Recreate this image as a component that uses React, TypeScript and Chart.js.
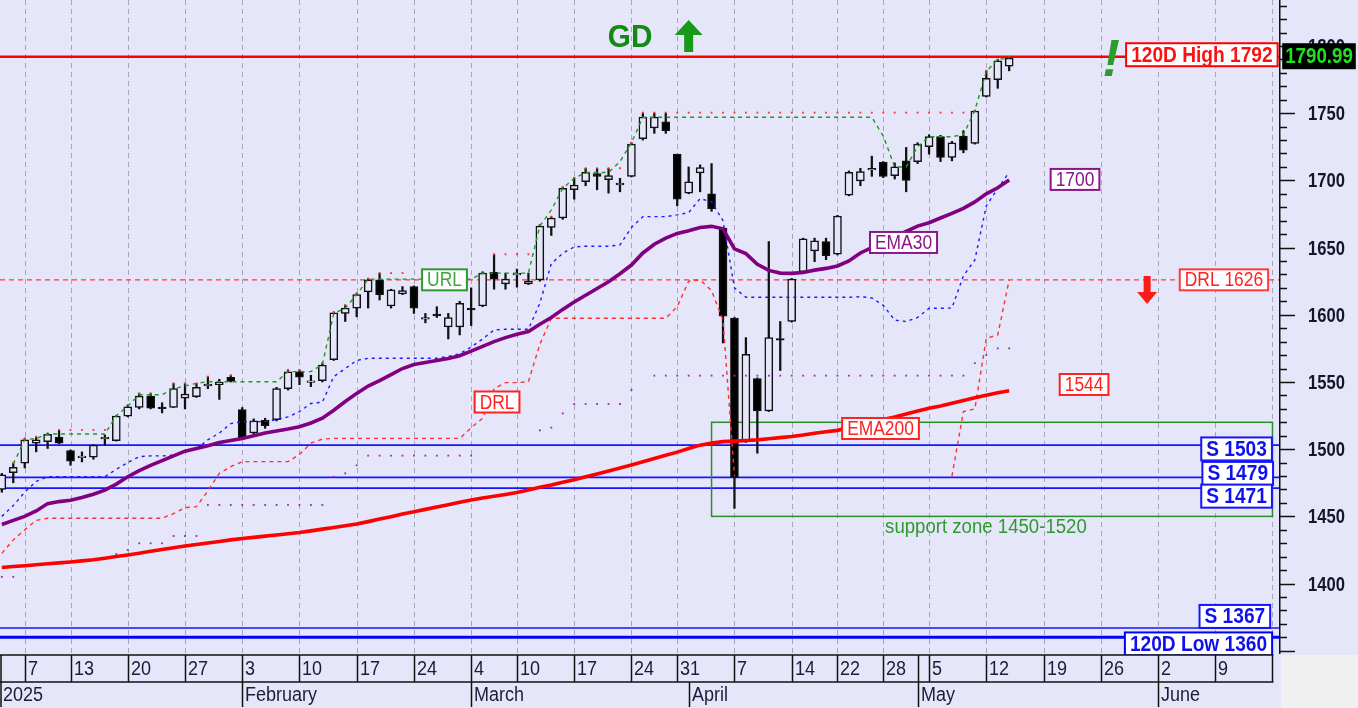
import React, { useEffect, useRef } from 'react';
import { Chart, registerables } from 'chart.js';

Chart.register(...registerables);

// ---------- DATA ----------
const opens = [
  1470, 1482.5, 1489.5, 1504.5, 1505.5, 1509, 1499, 1494, 1494, 1508,
  1506.3, 1524.5, 1531, 1539.5, 1531, 1531, 1538, 1539, 1547.5, 1548,
  1553.5, 1529.5, 1512, 1521.5, 1522, 1545, 1557.5, 1550, 1551, 1566.5,
  1601, 1605, 1617, 1626, 1606.5, 1615.5, 1621, 1597, 1600.5, 1591,
  1591, 1604.5, 1606.5, 1631.5, 1623, 1630, 1623, 1626, 1665, 1672,
  1693, 1699, 1705, 1700.5, 1697, 1703, 1731, 1739, 1743.5, 1719.5,
  1690.5, 1705.5, 1690, 1664.5, 1597.5, 1505.5, 1552.5, 1528.5, 1582, 1595,
  1632, 1647.5, 1654.5, 1645, 1689, 1699.5, 1708, 1713.5, 1703.5, 1714.5,
  1714, 1725, 1732.5, 1717, 1733, 1727.5, 1762.5, 1775, 1785,
];
const highs = [
  1482, 1489.5, 1508, 1509, 1512, 1514, 1499.5, 1498, 1503.5, 1510.5,
  1525, 1533, 1541.5, 1541.5, 1534.5, 1549, 1549, 1549, 1554, 1552,
  1555, 1531, 1522.5, 1523, 1546, 1559, 1559, 1555, 1564, 1602,
  1607, 1616, 1627, 1631, 1619, 1621, 1621.5, 1601, 1606, 1601,
  1610, 1620, 1632, 1645, 1631, 1634, 1631, 1667, 1673, 1695,
  1702, 1709, 1709, 1709, 1701.5, 1728, 1750, 1750, 1750, 1719.5,
  1710, 1711.5, 1712.5, 1665, 1598, 1583, 1553, 1654.5, 1595, 1627,
  1657, 1657, 1657, 1674, 1707, 1709, 1718, 1714, 1713, 1724.5,
  1728, 1734, 1733.5, 1729, 1737, 1752, 1781.5, 1790, 1792,
];
const lows = [
  1468, 1475, 1486, 1498, 1500.5, 1504, 1488, 1490.5, 1492.5, 1503,
  1506, 1524, 1530, 1530, 1527, 1531, 1530, 1538.5, 1545, 1537,
  1550, 1507, 1511, 1515.5, 1521, 1544, 1548, 1546.5, 1550, 1566,
  1595, 1598.5, 1605, 1611, 1605, 1615, 1601, 1594, 1598, 1582,
  1585, 1592, 1606, 1619, 1619, 1620.5, 1622.5, 1625, 1659, 1671,
  1686, 1696, 1693, 1690.5, 1691.5, 1702.5, 1730, 1735, 1735, 1681,
  1690, 1691.5, 1677, 1579, 1456, 1505, 1497, 1528, 1558.5, 1594.5,
  1631, 1639.5, 1641, 1644.5, 1688.5, 1696, 1703, 1702, 1701, 1691.5,
  1712.5, 1719.5, 1714, 1714.5, 1720.5, 1727, 1762, 1768.5, 1781.5,
];
const closes = [
  1481, 1486.5, 1507, 1507, 1511, 1504.5, 1491, 1494.6, 1503, 1508.6,
  1524.7, 1531.5, 1539.5, 1530.5, 1530.4, 1545, 1541, 1546, 1548, 1550,
  1550.5, 1508, 1521, 1517.5, 1545, 1557.5, 1553.5, 1550.5, 1562.5, 1601.5,
  1605, 1615, 1626, 1615, 1618.5, 1618, 1605, 1597.5, 1599.2, 1598,
  1608.5, 1604, 1631, 1626.5, 1626.5, 1630.6, 1625, 1666, 1672, 1694,
  1696.5, 1706, 1703, 1703.5, 1697.6, 1727, 1747, 1747, 1737, 1686,
  1699, 1709.5, 1679, 1599, 1479, 1570.5, 1528.5, 1583, 1581.4, 1626.5,
  1656.5, 1655, 1644, 1673.5, 1706, 1706.5, 1708.6, 1703, 1710, 1700,
  1727, 1732.5, 1717, 1728, 1722.5, 1751.5, 1776, 1789, 1791,
];

const ema30 = [
  1444, 1447, 1450, 1454, 1459.5, 1461, 1462, 1464, 1466.5, 1469.5,
  1474, 1479.5, 1484, 1488, 1491.5, 1495, 1498.5, 1500.5, 1502.5, 1505,
  1506.5, 1508, 1510, 1512, 1513.5, 1515, 1516.7, 1519.5, 1523, 1529,
  1535.5, 1541.5, 1547, 1551, 1555.5, 1560, 1563, 1564.5, 1566, 1567.5,
  1569.5, 1573, 1576.5, 1580, 1583, 1585.5, 1587.5, 1593, 1598, 1604,
  1609.5, 1614.5, 1619.5, 1624.5, 1630.5, 1637, 1646, 1652.5, 1657, 1660.5,
  1662.5, 1665, 1665.8, 1664, 1649, 1645.5, 1637.5, 1633, 1631, 1630.8,
  1631.5, 1633.2, 1634.5, 1636.3, 1640, 1646, 1650, 1654, 1658, 1662,
  1666, 1668.5, 1672, 1675.5, 1679.2, 1684, 1690, 1694.5, 1700.3,
];
const ema200 = [
  1412, 1412.7, 1413.3, 1414, 1414.7, 1415.4, 1416.1, 1416.9, 1417.7, 1418.9,
  1420.1, 1421.3, 1422.6, 1424, 1425.3, 1426.7, 1428, 1429.1, 1430.2, 1431.3,
  1432.5, 1433.6, 1434.4, 1435.3, 1436.2, 1437.1, 1438, 1439.2, 1440.5, 1441.7,
  1443, 1444.3, 1446.1, 1448, 1449.8, 1451.7, 1453.5, 1455.2, 1457, 1458.7,
  1460.5, 1462.2, 1463.6, 1465, 1466.3, 1467.7, 1469.6, 1471.6, 1473.4, 1475.4,
  1477.3, 1479.5, 1481.6, 1483.8, 1486, 1488.2, 1490.6, 1493, 1495.5, 1497.8,
  1500.5, 1503, 1504.5, 1505.6, 1506, 1506.4, 1506.9, 1507.7, 1508.6, 1509.4,
  1510.5, 1511.8, 1513, 1514, 1516, 1518, 1520, 1522, 1524, 1526.2,
  1528.4, 1530.4, 1532.2, 1534.2, 1536.3, 1538.2, 1540.2, 1542, 1543.5,
];
// blue dashed lower trailing line
const lowerTrail = [
  1450, 1458, 1468, 1476, 1479.5, 1479.5, 1479.5, 1479.5, 1479.5, 1479.5,
  1485, 1490, 1494.4, 1495, 1495, 1495.5, 1499, 1500, 1507, 1512,
  1519, 1520.5, 1520.5, 1520.5, 1522, 1524, 1528, 1534, 1535, 1554,
  1560, 1566, 1567.6, 1567.6, 1567.6, 1567.6, 1567.6, 1567.6, 1567.6, 1569,
  1571, 1576, 1582, 1588.7, 1589.2, 1589.2, 1589.2, 1608.6, 1638, 1645.8,
  1650.5, 1651, 1651, 1651, 1652, 1665, 1673, 1673, 1673, 1674.3,
  1676, 1686.5, 1684, 1670, 1620, 1613, 1613, 1613, 1613, 1613,
  1613, 1613, 1613, 1613, 1613, 1613.5, 1612.5, 1607, 1596, 1595,
  1598, 1604.8, 1604.8, 1605, 1629, 1640.8, 1681, 1694, 1706,
];
// green dashed upper reversal line (URL)
const upperTrail = [
  null, 1489, 1507, 1508, 1511.3, 1511.3, 1511.3, 1511.3, 1511.3, 1511.3,
  1525, 1532, 1540.5, 1540.5, 1540.5, 1545, 1547, 1549, 1550.2, 1550.2,
  1550.2, 1550.2, 1550.2, 1550.2, 1550.2, 1557.7, 1557.7, 1557.7, 1563, 1601,
  1605, 1615, 1626.5, 1626.5, 1626.5, 1626.5, 1626.5, 1626.5, 1626.5, 1626.5,
  1626.5, 1626.5, 1631, 1631, 1631, 1631, 1631, 1666, 1678, 1694,
  1701.6, 1705.8, 1705.8, 1705.8, 1714, 1728, 1747, 1747, 1747, 1747,
  1747, 1747, 1747, 1747, 1747, 1747, 1747, 1747, 1747, 1747,
  1747, 1747, 1747, 1747, 1747, 1747, 1747, 1733, 1710, 1710,
  1725, 1732.5, 1732.5, 1732.5, 1734, 1752, 1781, 1790, 1791,
];
// red dashed down reversal line (DRL)
const downTrail = [
  1422.5, 1432.5, 1440, 1447, 1448.6, 1448.6, 1448.6, 1448.6, 1448.6, 1448.6,
  1448.6, 1448.6, 1448.6, 1448.6, 1448.6, 1452, 1456.5, 1457.2, 1469, 1482,
  1487, 1490.7, 1490.7, 1490.7, 1490.7, 1490.7, 1496, 1504.5, 1507.5, 1508,
  1508, 1508, 1508, 1508, 1508, 1508, 1508, 1508, 1508, 1508,
  1508, 1516, 1523, 1545, 1549.5, 1549.5, 1550.2, 1578, 1597.4, 1597.4,
  1597.4, 1597.4, 1597.4, 1597.4, 1597.4, 1597.4, 1597.4, 1597.4, 1597.4, 1606,
  1625, 1626, 1618, 1596, 1480, null, null, null, null, null,
  null, null, null, null, null, null, null, null, null, null,
  null, null, null, 1480, 1528, 1530, 1582.5, 1585, 1626,
];
// red dotted resistance marks
const resistanceDots = [
  null, 1490, 1508, 1509.3, null, 1514.3, 1514.3, 1514.3, 1514.3, 1514.3,
  null, null, 1541.6, 1541.6, null, 1549, 1549, 1549, 1554, null,
  1555, null, null, null, null, 1559, 1559, null, 1564, 1602,
  1607.3, 1616, 1627, 1631, 1631, 1631, null, null, null, null,
  null, null, null, 1645, 1645, 1645, 1645, 1667, 1673, 1695,
  1702, 1709, 1709, 1709, 1709, 1728, 1750.4, 1750.4, 1750.4, 1750.4,
  1750.4, 1750.4, 1750.4, 1750.4, 1750.4, 1750.4, 1750.4, 1750.4, 1750.4, 1750.4,
  1750.4, 1750.4, 1750.4, 1750.4, 1750.4, 1750.4, 1750.4, 1750.4, 1750.4, 1750.4,
  1750.4, 1750.4, 1750.4, 1750.4, 1750.4, 1752, 1781.6, 1790, 1792,
];
// purple dotted support marks
const supportDots = [
  1405, 1405, null, null, null, null, null, null, null, 1419,
  1422, 1425, 1430, 1430, 1430, 1435.4, 1435.4, 1435.4, 1458.5, 1458.5,
  1458.5, 1458.5, 1458.5, 1458.5, 1458.5, 1458.5, 1458.5, 1458.5, 1458.5, 1479.5,
  1482, 1488, 1495.2, 1495.2, 1495.2, 1495.2, 1495.2, 1495.2, 1495.2, 1495.2,
  1495.2, 1495.2, null, null, null, null, null, 1514, 1516, 1526.6,
  1533.6, 1533.6, 1533.6, 1533.6, 1533.6, 1544, null, 1554.7, 1554.7, 1554.7,
  1554.7, 1554.7, 1554.7, 1554.7, 1554.7, 1554.7, 1554.7, 1554.7, 1554.7, 1554.7,
  1554.7, 1554.7, 1554.7, 1554.7, 1554.7, 1554.7, 1554.7, 1554.7, 1554.7, 1554.7,
  1554.7, 1554.7, 1554.7, 1554.7, 1554.7, 1564, 1570, 1575, 1575,
];

// calendar (trading-day slots)
const weekLabels = ['7', '13', '20', '27', '3', '10', '17', '24', '4', '10', '17', '24', '31', '7', '14', '22', '28', '5', '12', '19', '26', '2', '9'];
const weekSlots = [2, 6, 11, 16, 21, 26, 31, 36, 41, 45, 50, 55, 59, 64, 69, 73, 77, 81, 86, 91, 96, 101, 106];
const monthLabels = ['2025', 'February', 'March', 'April', 'May', 'June'];
const monthSlots = [null, 21, 41, 60, 80, 101];
const monthSplitsWeekRow = [false, true, true, false, true, true];
const END_SLOT = 111;

// horizontal levels
const levelValues = [1792, 1626, 1503, 1479, 1471, 1367, 1360];
const levelLabels = ['120D High 1792', 'DRL 1626', 'S 1503', 'S 1479', 'S 1471', 'S 1367', '120D Low 1360'];
const lastPrice = '1790.99';

// support zone
const zoneLow = 1450;
const zoneHigh = 1520;
const zoneStartSlot = 62;
const zoneText = 'support zone 1450-1520';

// tags
const tagTexts = ['URL', 'DRL', 'EMA30', 'EMA200', '1700', '1544'];

// ---------- STYLE / LAYOUT ----------
const BG = '#E6E6FA';
const FONT = "'Liberation Sans', Arial, Helvetica, sans-serif";
const SLOT_MIN = -0.16;
const SLOT_MAX = 111.57;
const PRICE_MIN = 1347.6;
const PRICE_MAX = 1834.2;

const levelStyles = [
  { color: '#ff0000', text: '#ff1010', width: 2.5, dash: [] as number[], dy: -2, bold: true, rightSlot: 111.45 },
  { color: '#ff3a3a', text: '#ff2020', width: 1.3, dash: [5, 4], dy: 0, bold: false, rightSlot: 110.62 },
  { color: '#1414ff', text: '#1010ee', width: 1.6, dash: [] as number[], dy: 3.8, bold: true, rightSlot: 110.95 },
  { color: '#1414ff', text: '#1010ee', width: 1.6, dash: [] as number[], dy: -4, bold: true, rightSlot: 111.05 },
  { color: '#1414ff', text: '#1010ee', width: 1.6, dash: [] as number[], dy: 8, bold: true, rightSlot: 110.95 },
  { color: '#1414ff', text: '#1010ee', width: 1.6, dash: [] as number[], dy: -11.5, bold: true, rightSlot: 110.8 },
  { color: '#0000ff', text: '#1010ee', width: 3, dash: [] as number[], dy: 6.6, bold: true, rightSlot: 110.97 },
];
const tagStyles = [
  { slot: 38.67, value: 1626, text: '#3da63d', border: '#2c9a2c' },
  { slot: 43.26, value: 1535.1, text: '#ff2020', border: '#ff2020' },
  { slot: 78.77, value: 1653.8, text: '#8b168b', border: '#8b168b' },
  { slot: 76.76, value: 1515.4, text: '#ff2020', border: '#ff2020' },
  { slot: 93.75, value: 1700.7, text: '#8b168b', border: '#8b168b' },
  { slot: 94.54, value: 1548.1, text: '#ff2020', border: '#ff2020' },
];

function txt(
  ctx: CanvasRenderingContext2D, s: string, x: number, y: number, font: string,
  color: string, align: 'left' | 'center' | 'right', sx: number, baseline: CanvasTextBaseline = 'middle'
) {
  ctx.save();
  ctx.font = font;
  const w = ctx.measureText(s).width * sx;
  const left = align === 'center' ? x - w / 2 : align === 'right' ? x - w : x;
  ctx.translate(left, y);
  ctx.scale(sx, 1);
  ctx.fillStyle = color;
  ctx.textAlign = 'left';
  ctx.textBaseline = baseline;
  ctx.fillText(s, 0, 0);
  ctx.restore();
  return w;
}

function boxLabel(
  ctx: CanvasRenderingContext2D, s: string, x: number, cy: number, font: string, sx: number,
  color: string, border: string, h: number, pad: number, anchor: 'center' | 'right', fill = '#ffffff'
) {
  ctx.save();
  ctx.font = font;
  const tw = ctx.measureText(s).width * sx;
  const w = tw + 2 * pad;
  const left = anchor === 'right' ? x - w : x - w / 2;
  const top = cy - h / 2;
  ctx.fillStyle = fill;
  ctx.fillRect(left, top, w, h);
  if (border) {
    ctx.strokeStyle = border;
    ctx.lineWidth = 2;
    ctx.strokeRect(left, top, w, h);
  }
  ctx.restore();
  txt(ctx, s, left + w / 2, cy + 1, font, color, 'center', sx);
}

const drawPlugin = {
  id: 'drawPlugin',
  beforeDraw(chart: any) {
    const { ctx, width, height, chartArea: ca } = chart;
    ctx.save();
    ctx.fillStyle = BG;
    ctx.fillRect(0, 0, width, height);
    ctx.fillStyle = '#f0f0f0';
    ctx.fillRect(ca.right + 2, ca.bottom + 1, width - ca.right, height - ca.bottom);
    ctx.restore();
  },
  beforeDatasetsDraw(chart: any) {
    const { ctx, chartArea: ca, scales } = chart;
    const xs = (v: number) => scales.x.getPixelForValue(v);
    const ys = (v: number) => scales.y.getPixelForValue(v);
    ctx.save();
    // vertical dashed week grid
    ctx.strokeStyle = '#a6a6b6';
    ctx.lineWidth = 1;
    ctx.setLineDash([5, 4]);
    [...weekSlots, END_SLOT].forEach((s) => {
      const x = Math.round(xs(s)) + 0.5;
      ctx.beginPath();
      ctx.moveTo(x, ca.top);
      ctx.lineTo(x, ca.bottom);
      ctx.stroke();
    });
    // horizontal levels
    levelValues.forEach((v, i) => {
      const st = levelStyles[i];
      ctx.strokeStyle = st.color;
      ctx.lineWidth = st.width;
      ctx.setLineDash(st.dash);
      const y = ys(v);
      ctx.beginPath();
      ctx.moveTo(ca.left, y);
      ctx.lineTo(ca.right, y);
      ctx.stroke();
    });
    ctx.setLineDash([]);
    // support zone rectangle
    ctx.strokeStyle = '#2a8f2a';
    ctx.lineWidth = 1.5;
    const x0 = xs(zoneStartSlot), x1 = xs(END_SLOT);
    const y0 = ys(zoneHigh), y1 = ys(zoneLow);
    ctx.strokeRect(x0, y0, x1 - x0, y1 - y0);
    ctx.restore();
  },
  afterDatasetsDraw(chart: any) {
    const { ctx, chartArea: ca, scales, width, height } = chart;
    const xs = (v: number) => scales.x.getPixelForValue(v);
    const ys = (v: number) => scales.y.getPixelForValue(v);

    // support zone text
    txt(ctx, zoneText, xs(77.16), ys(1441.4), `20px ${FONT}`, '#2e9a2e', 'left', 0.93);

    // tags
    tagTexts.forEach((t, i) => {
      const st = tagStyles[i];
      boxLabel(ctx, t, xs(st.slot), ys(st.value), `20px ${FONT}`, 0.87, st.text, st.border, 21, 5, 'center');
    });

    // level labels
    levelValues.forEach((v, i) => {
      const st = levelStyles[i];
      const font = st.bold ? `bold 22px ${FONT}` : `20px ${FONT}`;
      boxLabel(ctx, levelLabels[i], xs(st.rightSlot), ys(v) + st.dy, font, 0.87, st.text, st.color, st.bold ? 23 : 21, 5, 'right');
    });

    // GD text + up arrow
    txt(ctx, 'GD', xs(54.88), ys(1805.9), `bold 32px ${FONT}`, '#138a13', 'center', 0.93);
    {
      const cx = xs(60), ty = ys(1819.3), by = ys(1795.5);
      const hh = 15, hw = 28, sw = 9;
      ctx.save();
      ctx.fillStyle = '#179a17';
      ctx.beginPath();
      ctx.moveTo(cx, ty);
      ctx.lineTo(cx + hw / 2, ty + hh);
      ctx.lineTo(cx + sw / 2, ty + hh);
      ctx.lineTo(cx + sw / 2, by);
      ctx.lineTo(cx - sw / 2, by);
      ctx.lineTo(cx - sw / 2, ty + hh);
      ctx.lineTo(cx - hw / 2, ty + hh);
      ctx.closePath();
      ctx.fill();
      ctx.restore();
    }
    // exclamation
    txt(ctx, '!', xs(96.9), ys(1777.7), `italic bold 52px ${FONT}`, '#2a9d2a', 'center', 1, 'alphabetic');
    // red down arrow
    {
      const cx = xs(100.05), ty = ys(1628.8), tip = ys(1608.0);
      const hh = 12, hw = 20, sw = 7;
      ctx.save();
      ctx.fillStyle = '#ff1a1a';
      ctx.beginPath();
      ctx.moveTo(cx - sw / 2, ty);
      ctx.lineTo(cx + sw / 2, ty);
      ctx.lineTo(cx + sw / 2, tip - hh);
      ctx.lineTo(cx + hw / 2, tip - hh);
      ctx.lineTo(cx, tip);
      ctx.lineTo(cx - hw / 2, tip - hh);
      ctx.lineTo(cx - sw / 2, tip - hh);
      ctx.closePath();
      ctx.fill();
      ctx.restore();
    }

    // ---- y axis (right) ----
    ctx.save();
    ctx.fillStyle = BG;
    ctx.fillRect(ca.right, 0, width - ca.right, ca.bottom + 1);
    ctx.strokeStyle = '#111';
    ctx.lineWidth = 1.5;
    ctx.beginPath();
    ctx.moveTo(ca.right + 0.75, ca.top);
    ctx.lineTo(ca.right + 0.75, ca.bottom);
    ctx.stroke();
    ctx.lineWidth = 1.5;
    scales.y.ticks.forEach((t: any) => {
      const v = t.value;
      const y = Math.round(ys(v)) + 0.5;
      const major = Math.abs(v % 50) < 0.01;
      ctx.beginPath();
      ctx.moveTo(ca.right, y);
      ctx.lineTo(ca.right + (major ? 16 : 8), y);
      ctx.stroke();
      if (major && v >= 1400 && v <= 1800) {
        txt(ctx, String(v), ca.right + 29, y + 1, `bold 20px ${FONT}`, '#14142a', 'left', 0.83);
      }
    });
    ctx.restore();
    // last price box
    boxLabel(ctx, lastPrice, ca.right + 40, ys(1792) - 0.5, `bold 22px ${FONT}`, 0.85, '#22e022', '', 26, 3, 'center', '#000000');

    // ---- date axis ----
    const rowTop = ca.bottom + 1;
    const rowMid = rowTop + 27;
    const rowBot = height - 1;
    const xEnd = xs(END_SLOT);
    ctx.save();
    ctx.fillStyle = BG;
    ctx.fillRect(0, rowTop, xEnd + 6, rowBot - rowTop);
    ctx.strokeStyle = '#111';
    ctx.lineWidth = 1.5;
    ctx.beginPath();
    ctx.moveTo(0, rowTop);
    ctx.lineTo(xEnd + 1, rowTop);
    ctx.moveTo(0, rowMid);
    ctx.lineTo(xEnd + 1, rowMid);
    ctx.moveTo(1, rowTop);
    ctx.lineTo(1, rowBot);
    [...weekSlots, END_SLOT].forEach((s) => {
      const x = Math.round(xs(s)) + 0.5;
      ctx.moveTo(x, rowTop);
      ctx.lineTo(x, rowMid);
    });
    monthSlots.forEach((s, i) => {
      if (s === null) return;
      const x = Math.round(xs(s)) + 0.5;
      ctx.moveTo(x, monthSplitsWeekRow[i] ? rowTop : rowMid);
      ctx.lineTo(x, rowBot);
    });
    ctx.stroke();
    ctx.restore();
    weekLabels.forEach((l, i) => {
      txt(ctx, l, Math.round(xs(weekSlots[i])) + 3, (rowTop + rowMid) / 2 + 1, `20px ${FONT}`, '#1c1c3a', 'left', 0.9);
    });
    monthLabels.forEach((l, i) => {
      const s = monthSlots[i];
      const x = s === null ? 3 : Math.round(xs(s)) + 3;
      txt(ctx, l, x, (rowMid + rowBot) / 2 + 1, `20px ${FONT}`, '#1c1c3a', 'left', 0.9);
    });
  },
};

function pts(arr: (number | null)[]) {
  return arr.map((v, i) => ({ x: i, y: v }));
}

export default function App() {
  const ref = useRef<HTMLCanvasElement>(null);
  useEffect(() => {
    document.body.style.margin = '0';
    const canvas = ref.current;
    if (!canvas) return;
    const bodyColors = closes.map((c, i) => (c >= opens[i] ? BG : '#000000'));
    const wickData = highs.map((h, i) => ({ x: i, y: [lows[i], h] }));
    const bodyData = opens.map((o, i) => {
      let lo = Math.min(o, closes[i]);
      let hi = Math.max(o, closes[i]);
      if (hi - lo < 1.2) {
        const m = (hi + lo) / 2;
        lo = m - 0.6;
        hi = m + 0.6;
      }
      return { x: i, y: [lo, hi] };
    });

    const chart = new Chart(canvas, {
      type: 'bar',
      data: {
        datasets: [
          {
            type: 'bar', data: wickData as any, backgroundColor: '#111111', borderWidth: 0,
            barThickness: 1.6, grouped: false, order: 30,
          } as any,
          {
            type: 'bar', data: bodyData as any, backgroundColor: bodyColors, borderColor: '#111111',
            borderWidth: 1.5, borderSkipped: false, barThickness: 8, grouped: false, order: 20,
          } as any,
          {
            type: 'line', data: pts(supportDots) as any, showLine: false, pointRadius: 1.3,
            pointStyle: 'rect', pointBackgroundColor: '#a030a8', pointBorderWidth: 0, order: 9,
          } as any,
          {
            type: 'line', data: pts(resistanceDots) as any, showLine: false, pointRadius: 1.3,
            pointStyle: 'rect', pointBackgroundColor: '#ff3030', pointBorderWidth: 0, order: 8,
          } as any,
          {
            type: 'line', data: pts(downTrail) as any, borderColor: '#ff3030', borderWidth: 1.4,
            borderDash: [4, 4], pointRadius: 0, spanGaps: false, tension: 0, order: 7,
          } as any,
          {
            type: 'line', data: pts(upperTrail) as any, borderColor: '#1f9a1f', borderWidth: 1.4,
            borderDash: [4, 4], pointRadius: 0, spanGaps: false, tension: 0, order: 6,
          } as any,
          {
            type: 'line', data: pts(lowerTrail) as any, borderColor: '#1a1aff', borderWidth: 1.4,
            borderDash: [3, 4], pointRadius: 0, tension: 0, order: 5,
          } as any,
          {
            type: 'line', data: pts(ema200) as any, borderColor: '#ff0000', borderWidth: 3.6,
            pointRadius: 0, tension: 0, order: 2,
          } as any,
          {
            type: 'line', data: pts(ema30) as any, borderColor: '#800080', borderWidth: 3.6,
            pointRadius: 0, tension: 0, order: 1,
          } as any,
        ],
      },
      options: {
        responsive: false,
        animation: false,
        devicePixelRatio: 1,
        layout: { autoPadding: false, padding: { left: 0, right: 0, top: 0, bottom: 54 } },
        plugins: { legend: { display: false }, tooltip: { enabled: false } },
        events: [],
        scales: {
          x: { type: 'linear', min: SLOT_MIN, max: SLOT_MAX, display: false, offset: false },
          y: {
            type: 'linear', position: 'right', min: PRICE_MIN, max: PRICE_MAX,
            afterFit: (s: any) => { s.width = 79; },
            ticks: { display: false, stepSize: 10, includeBounds: false },
            grid: { display: false }, border: { display: false },
          },
        },
      } as any,
      plugins: [drawPlugin],
    });
    return () => chart.destroy();
  }, []);
  return <canvas ref={ref} width={1358} height={708} style={{ display: 'block', width: 1358, height: 708 }} />;
}
